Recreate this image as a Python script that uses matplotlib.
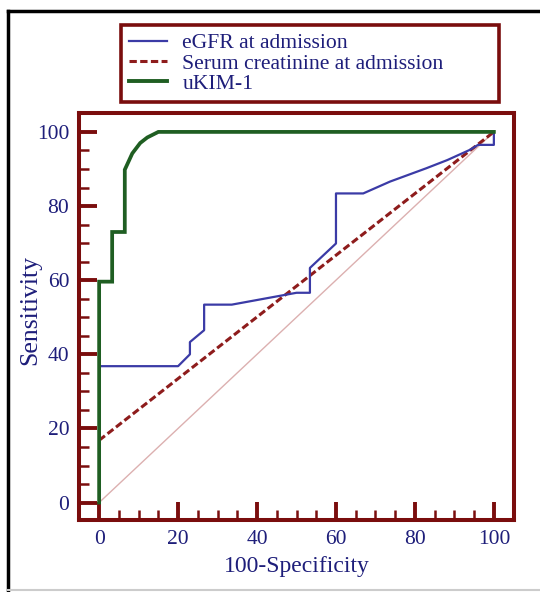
import matplotlib
matplotlib.use("Agg")
import matplotlib.pyplot as plt
from matplotlib.lines import Line2D

# Data
egfr_x = [0, 20, 23, 23, 26.6, 26.6, 33.6, 50, 53.4, 53.4, 60, 60, 66.9, 73.7, 82.9, 88.2, 93.8, 96, 100, 100]
egfr_y = [36.8, 36.8, 40, 43.3, 46.5, 53.4, 53.4, 56.6, 56.6, 63.3, 69.9, 83.4, 83.4, 86.6, 90.2, 92.4, 95.1, 96.5, 96.5, 100]
creat_x = [0, 100]
creat_y = [16.8, 100]
ukim_x = [0, 0, 3.3, 3.3, 6.5, 6.5, 8.4, 10.4, 12.2, 15, 100]
ukim_y = [0, 59.6, 59.6, 73, 73, 89.8, 94.2, 97, 98.5, 100, 100]
diag = [0, 100]
ticks = [0, 20, 40, 60, 80, 100]
legend_labels = ["eGFR at admission", "Serum creatinine at admission", "uKIM-1"]

SPINE = "#7a0d0d"
NAVY = "#1e1e7a"
BLUE = "#3b3ba6"
GREEN = "#1f5e22"
DRED = "#8e1c1c"
PINK = "#dcb0b0"

plt.rcParams["font.family"] = ["Liberation Serif", "DejaVu Serif"]

fig = plt.figure(figsize=(5.4, 5.92), dpi=100)
ax = fig.add_axes([79/540, 1-520/592, (514-79)/540, (520-113)/592])

ax.plot(diag, diag, color=PINK, lw=1.0, zorder=1)
ax.plot(creat_x, creat_y, color=DRED, lw=2.2, ls=(0, (2.4, 1.1)), zorder=2)
ax.plot(egfr_x, egfr_y, color=BLUE, lw=1.6, zorder=3)
ax.plot(ukim_x, ukim_y, color=GREEN, lw=2.7, zorder=4, solid_joinstyle="miter")

ax.set_xlim(-5.1, 105.1)
ax.set_ylim(-4.7, 105.1)
ax.set_xticks(ticks)
ax.set_yticks(ticks)
ax.set_xticks(range(0, 101, 5), minor=True)
ax.set_yticks(range(0, 101, 5), minor=True)
ax.tick_params(which="major", direction="in", length=13, width=2.8, color=SPINE,
               labelsize=15.5, labelcolor=NAVY)
ax.tick_params(which="minor", direction="in", length=7, width=1.8, color=SPINE)
ax.tick_params(axis="y", which="major", pad=7)
ax.tick_params(axis="x", which="major", pad=7)
for s in ax.spines.values():
    s.set_color(SPINE)
    s.set_linewidth(2.9)

ax.set_xlabel("100-Specificity", fontsize=17, color=NAVY, labelpad=5)
ax.set_ylabel("Sensitivity", fontsize=18.5, color=NAVY, va="center")
ax.yaxis.set_label_coords(-0.111, 0.515)

handles = [Line2D([], [], color=BLUE, lw=1.6),
           Line2D([], [], color=DRED, lw=2.2, ls=(0, (2.4, 1.1))),
           Line2D([], [], color=GREEN, lw=2.8)]
leg = fig.legend(handles, legend_labels, loc="upper left",
                 bbox_to_anchor=(121/540, 1-25/592, (499-121)/540, 0), mode="expand",
                 fontsize=15.6, frameon=True, fancybox=False, framealpha=1,
                 handlelength=1.75, handletextpad=0.7, labelspacing=0.0,
                 borderpad=0.38, borderaxespad=0)
leg.get_frame().set_edgecolor(SPINE)
leg.get_frame().set_linewidth(2.6)
for t in leg.get_texts():
    t.set_color(NAVY)

# outer frame
fig.add_artist(Line2D([8/540, 8/540], [0, 1-11/592], transform=fig.transFigure, color="black", lw=2.5))
fig.add_artist(Line2D([8/540, 1], [1-11/592, 1-11/592], transform=fig.transFigure, color="black", lw=2.5))
fig.add_artist(Line2D([8/540, 1], [2/592, 2/592], transform=fig.transFigure, color="#cccccc", lw=1.5))

fig.savefig("out.png", dpi=100)
